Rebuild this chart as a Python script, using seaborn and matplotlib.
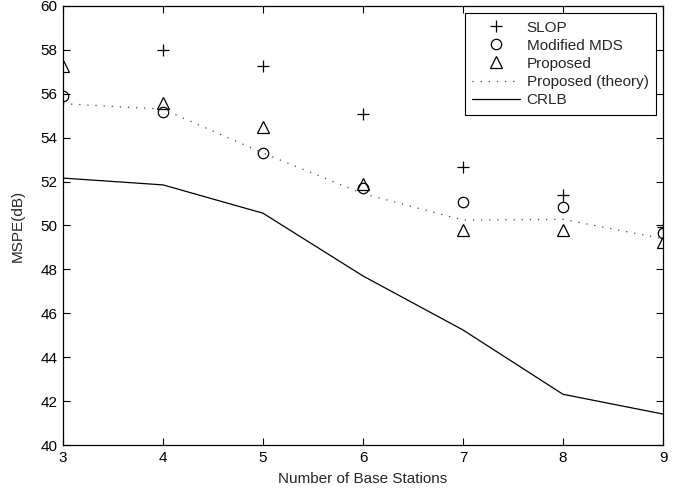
import matplotlib
matplotlib.use("Agg")
import matplotlib.pyplot as plt
import seaborn as sns
import numpy as np
import pandas as pd

stations = [3, 4, 5, 6, 7, 8, 9]
slop = [np.nan, 58.0, 57.25, 55.1, 52.65, 51.38, 49.95]
mmds = [55.9, 55.18, 53.32, 51.69, 51.08, 50.83, 49.64]
proposed = [57.28, 55.6, 54.5, 51.88, 49.8, 49.8, 49.25]
theory = [55.55, 55.3, 53.3, 51.45, 50.25, 50.28, 49.4]
crlb = [52.16, 51.85, 50.56, 47.7, 45.24, 42.31, 41.41]

x_ticks = [3, 4, 5, 6, 7, 8, 9]
y_ticks = list(range(40, 61, 2))

sns.set_style("ticks")
plt.rcParams['font.family'] = ['Liberation Sans', 'DejaVu Sans']

fig = plt.figure(figsize=(6.95, 4.9), dpi=100)
ax = fig.add_axes([63/695, 45/490, 600/695, 439/490])

df = pd.DataFrame({"x": stations, "slop": slop, "mmds": mmds,
                   "proposed": proposed, "theory": theory, "crlb": crlb})

sns.lineplot(data=df, x="x", y="slop", ax=ax, marker="+", linestyle="",
             color="black", markeredgecolor="black",
             markersize=8, markeredgewidth=0.9, label="SLOP")
sns.lineplot(data=df, x="x", y="mmds", ax=ax, marker="o", linestyle="",
             color="black", markerfacecolor="none", markeredgecolor="black",
             markersize=7.5, markeredgewidth=0.9, label="Modified MDS")
sns.lineplot(data=df, x="x", y="proposed", ax=ax, marker="^", linestyle="",
             color="black", markerfacecolor="none", markeredgecolor="black",
             markersize=8.5, markeredgewidth=0.9, label="Proposed")
sns.lineplot(data=df, x="x", y="theory", ax=ax, color="#444444",
             linewidth=0.9, label="Proposed (theory)")
ax.lines[-1].set_linestyle((0, (1, 5.5)))
sns.lineplot(data=df, x="x", y="crlb", ax=ax, color="black",
             linewidth=0.9, label="CRLB")

ax.set_xlim(3, 9)
ax.set_ylim(40, 60)
ax.set_xticks(x_ticks)
ax.set_yticks(y_ticks)
ax.tick_params(direction="in", top=True, right=True, length=5, width=0.8,
               labelsize=11, colors="black", pad=4)
for s in ax.spines.values():
    s.set_visible(True)
    s.set_linewidth(0.9)
    s.set_color("black")

ax.set_xlabel("Number of Base Stations", fontsize=11, labelpad=5)
ax.set_ylabel("MSPE(dB)", fontsize=11, labelpad=11)

handles, labels = ax.get_legend_handles_labels()
leg = ax.legend(handles, labels, loc="upper right", fontsize=11, frameon=True,
                fancybox=False, edgecolor="black", framealpha=1,
                borderpad=0.5, labelspacing=0.27, handlelength=3.1,
                handletextpad=0.45, borderaxespad=0.45)
leg.get_frame().set_linewidth(0.8)

fig.savefig("out.png", dpi=100)
